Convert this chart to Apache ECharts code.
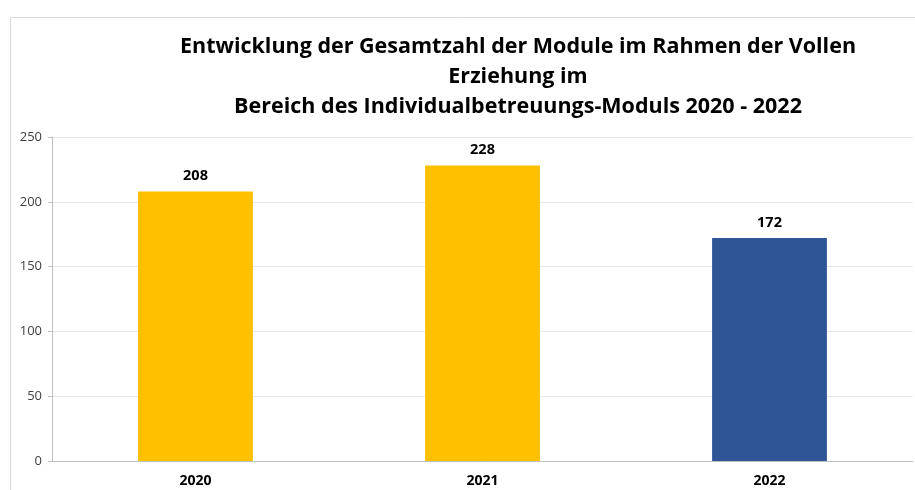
<!DOCTYPE html>
<html>
<head>
<meta charset="utf-8">
<script src="https://cdn.jsdelivr.net/npm/echarts@6/dist/echarts.min.js"></script>
<style>
  html, body { margin: 0; padding: 0; background: #fff; }
  #chart { width: 915px; height: 490px; }
</style>
</head>
<body>
<div id="chart"></div>
<script>
// data
const years = ["2020", "2021", "2022"];
const modules = [208, 228, 172];
const barColors = ["#FFC000", "#FFC000", "#2F5597"];

const chart = echarts.init(document.getElementById("chart"));
chart.setOption({
  animation: false,
  title: {
    text: "Entwicklung der Gesamtzahl der Module im Rahmen der Vollen\nErziehung im\nBereich des Individualbetreuungs-Moduls 2020 - 2022",
    left: 513,
    top: 27,
    textAlign: "center",
    textStyle: {
      fontFamily: "Open Sans",
      fontWeight: "bold",
      fontSize: 21.5,
      lineHeight: 30,
      color: "#000",
    },
  },
  graphic: [
    {
      type: "rect",
      left: 8,
      top: 15,
      shape: { width: 1000, height: 1000 },
      style: { fill: "none", stroke: "#d9d9d9", lineWidth: 1 },
      silent: true,
    },
  ],
  grid: {
    left: 52,
    right: 2,
    top: 137,
    bottom: 29,
  },
  xAxis: {
    type: "category",
    data: years,
    axisLine: { lineStyle: { color: "#bfbfbf" } },
    axisTick: { show: false },
    axisLabel: {
      fontFamily: "Open Sans",
      fontWeight: "bold",
      fontSize: 14,
      color: "#000",
      margin: 13,
    },
  },
  yAxis: {
    type: "value",
    min: 0,
    max: 250,
    interval: 50,
    axisLine: { show: true, lineStyle: { color: "#bfbfbf" } },
    axisTick: { show: true, length: 4, lineStyle: { color: "#bfbfbf" } },
    axisLabel: {
      fontFamily: "Open Sans",
      fontSize: 13,
      color: "#404040",
      margin: 10,
    },
    splitLine: { lineStyle: { color: "#e6e6e6" } },
  },
  series: [
    {
      type: "bar",
      barWidth: "40%",
      data: modules.map((v, i) => ({ value: v, itemStyle: { color: barColors[i] } })),
      label: {
        show: true,
        position: "top",
        distance: 8,
        fontFamily: "Open Sans",
        fontWeight: "bold",
        fontSize: 14.5,
        color: "#000",
      },
    },
  ],
});
</script>
</body>
</html>
